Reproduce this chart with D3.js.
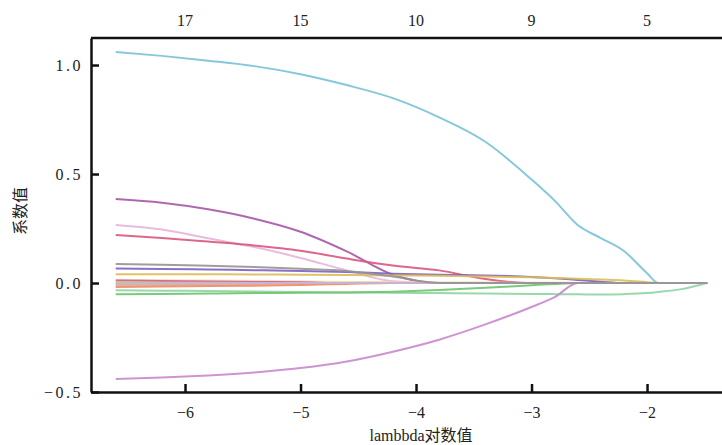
<!DOCTYPE html>
<html lang="zh">
    <head>
        <meta charset="utf-8">
        <title>lasso coefficient path</title>
        <script type="text/javascript" src="https://d3js.org/d3.v7.min.js"></script>
        <style type="text/css">
            body { margin: 0; background: #fff; }
            text { font-family: "Liberation Serif", "Times New Roman", Times, "DejaVu Serif", "Noto Sans CJK SC", serif; font-size: 16px; fill: #222; }
        </style>
    </head>
    <body>
        <div id="chart"></div>
        <script type="text/javascript">

            var serif = '"Liberation Serif", "Times New Roman", Times, "DejaVu Serif", "Noto Sans CJK SC", serif';

            // log(lambda) grid the coefficients were read at
            var lambdas = [-6.6, -6.2, -5.8, -5.4, -5.0, -4.6, -4.2, -3.8, -3.4, -3.0, -2.8, -2.6, -2.4, -2.2, -2.0, -1.9, -1.7, -1.48];

            // coefficient values along the grid
            var coefBlue    = [1.06, 1.042, 1.02, 0.995, 0.958, 0.908, 0.848, 0.76, 0.648, 0.475, 0.378, 0.266, 0.206, 0.147, 0.045, 0, 0, 0];
            var coefPurple  = [0.385, 0.368, 0.338, 0.295, 0.235, 0.145, 0.038, 0, 0, 0, 0, 0, 0, 0, 0, 0, 0, 0];
            var coefPink    = [0.266, 0.245, 0.205, 0.165, 0.115, 0.058, 0.008, 0, 0, 0, 0, 0, 0, 0, 0, 0, 0, 0];
            var coefRed     = [0.22, 0.207, 0.19, 0.172, 0.148, 0.112, 0.08, 0.058, 0.018, 0, 0, 0, 0, 0, 0, 0, 0, 0];
            var coefViolet  = [0.066, 0.064, 0.062, 0.059, 0.055, 0.05, 0.043, 0.038, 0.035, 0.028, 0.022, 0.014, 0.006, 0, 0, 0, 0, 0];
            var coefGold    = [0.04, 0.04, 0.04, 0.039, 0.038, 0.037, 0.035, 0.033, 0.03, 0.026, 0.023, 0.02, 0.016, 0.012, 0.004, 0, 0, 0];
            var coefPaleYel = [0.015, 0.013, 0.011, 0.009, 0.007, 0.005, 0.003, 0.002, 0.002, 0.001, 0.001, 0, 0, 0, 0, 0, 0, 0];
            var coefMagenta = [0.011, 0.009, 0.007, 0.005, 0.003, 0, 0, 0, 0, 0, 0, 0, 0, 0, 0, 0, 0, 0];
            var coefYGreen  = [0.003, 0.002, 0.001, 0, 0, 0, 0, 0, 0, 0, 0, 0, 0, 0, 0, 0, 0, 0];
            var coefTeal    = [-0.006, -0.005, -0.004, -0.002, 0, 0, 0, 0, 0, 0, 0, 0, 0, 0, 0, 0, 0, 0];
            var coefSalmon  = [-0.01, -0.009, -0.007, -0.005, -0.002, 0, 0, 0, 0, 0, 0, 0, 0, 0, 0, 0, 0, 0];
            var coefOrange  = [-0.018, -0.016, -0.014, -0.012, -0.009, -0.004, 0, 0, 0, 0, 0, 0, 0, 0, 0, 0, 0, 0];
            var coefMint    = [-0.033, -0.035, -0.037, -0.039, -0.041, -0.043, -0.045, -0.046, -0.048, -0.05, -0.051, -0.052, -0.053, -0.051, -0.046, -0.041, -0.028, 0];
            var coefGreen   = [-0.052, -0.05, -0.048, -0.046, -0.045, -0.044, -0.04, -0.032, -0.022, -0.01, -0.004, 0, 0, 0, 0, 0, 0, 0];
            var coefOrchid  = [-0.44, -0.434, -0.424, -0.41, -0.39, -0.36, -0.315, -0.26, -0.19, -0.11, -0.065, 0, 0, 0, 0, 0, 0, 0];
            var coefLilac   = [-0.003, -0.002, -0.001, 0, 0, 0, 0, 0, 0, 0, 0, 0, 0, 0, 0, 0, 0, 0];
            var coefGray    = [0.087, 0.084, 0.079, 0.073, 0.065, 0.055, 0.03, 0, 0, 0, 0, 0, 0, 0, 0, 0, 0, 0];

            var series = [coefBlue, coefPurple, coefPink, coefRed, coefViolet, coefGold, coefPaleYel, coefMagenta,
                          coefYGreen, coefTeal, coefSalmon, coefOrange, coefMint, coefGreen, coefOrchid, coefLilac, coefGray];
            var colors = ["#78c2d8", "#a657a8", "#e6b4dc", "#d9577f", "#7d5fc0", "#dcbc58", "#eadca0", "#e0559c",
                          "#b8cc5a", "#7ab8c8", "#f4a88c", "#f08a60", "#8ed4a4", "#6cc46c", "#c888cc", "#c8b4e0", "#939393"];

            // top axis: number of nonzero coefficients
            var topTicks  = [-6, -5, -4, -3, -2];
            var topLabels = ["17", "15", "10", "9", "5"];

            var margin = {top: 38, right: 0, bottom: 53, left: 91},
                width = 722 - margin.left - margin.right,
                height = 445 - margin.top - margin.bottom;

            var svg = d3.select("#chart")
                .append("svg")
                    .attr("width", 722)
                    .attr("height", 445)
                .append("g")
                    .attr("transform", "translate(" + margin.left + "," + margin.top + ")");

            var x = d3.scaleLinear().domain([-6.814, -1.351]).range([0, width]);
            var y = d3.scaleLinear().domain([-0.5, 1.124]).range([height, 0]);

            // coefficient paths
            var line = d3.line()
                .x(function(d, i) { return x(lambdas[i]); })
                .y(function(d) { return y(d); })
                .curve(d3.curveMonotoneX);

            svg.selectAll(".path")
                .data(series)
                .enter().append("path")
                    .attr("class", "path")
                    .attr("fill", "none")
                    .attr("stroke", function(d, i) { return colors[i]; })
                    .attr("stroke-width", 2)
                    .attr("stroke-opacity", 0.9)
                    .attr("d", line);

            // X axis
            var xAxis = svg.append("g")
                .attr("transform", "translate(0," + height + ")")
                .call(d3.axisBottom(x).tickValues(topTicks).tickSizeInner(-8).tickSizeOuter(0).tickPadding(15)
                    .tickFormat(d3.format("d")));

            // Y axis
            var yAxis = svg.append("g")
                .call(d3.axisLeft(y).tickValues([-0.5, 0, 0.5, 1.0]).tickSizeInner(-8).tickSizeOuter(0).tickPadding(8)
                    .tickFormat(d3.format(".1f")));

            svg.selectAll(".tick text")
                .attr("font-family", serif)
                .attr("font-size", 16)
                .style("font-family", serif)
                .style("font-size", "16px");
            yAxis.selectAll(".tick text").attr("letter-spacing", "2.5px");
            svg.selectAll(".domain, .tick line").attr("stroke", "#111").attr("stroke-width", 2.5);

            // top border + counts
            svg.append("line")
                .attr("x1", 0).attr("x2", width)
                .attr("y1", 0).attr("y2", 0)
                .attr("stroke", "#111").attr("stroke-width", 2.5);

            svg.selectAll(".toplab")
                .data(topTicks)
                .enter().append("text")
                    .attr("class", "toplab")
                    .attr("x", function(d) { return x(d); })
                    .attr("y", -12)
                    .attr("text-anchor", "middle")
                    .text(function(d, i) { return topLabels[i]; });

            // axis titles
            svg.append("text")
                .attr("x", 421 - margin.left)
                .attr("y", height + 49)
                .attr("text-anchor", "middle")
                .text("lambbda对数值");

            svg.append("text")
                .attr("transform", "translate(" + (26 - margin.left) + "," + (211 - margin.top) + ") rotate(-90)")
                .attr("text-anchor", "middle")
                .text("系数值");
        </script>
    </body>
</html>
